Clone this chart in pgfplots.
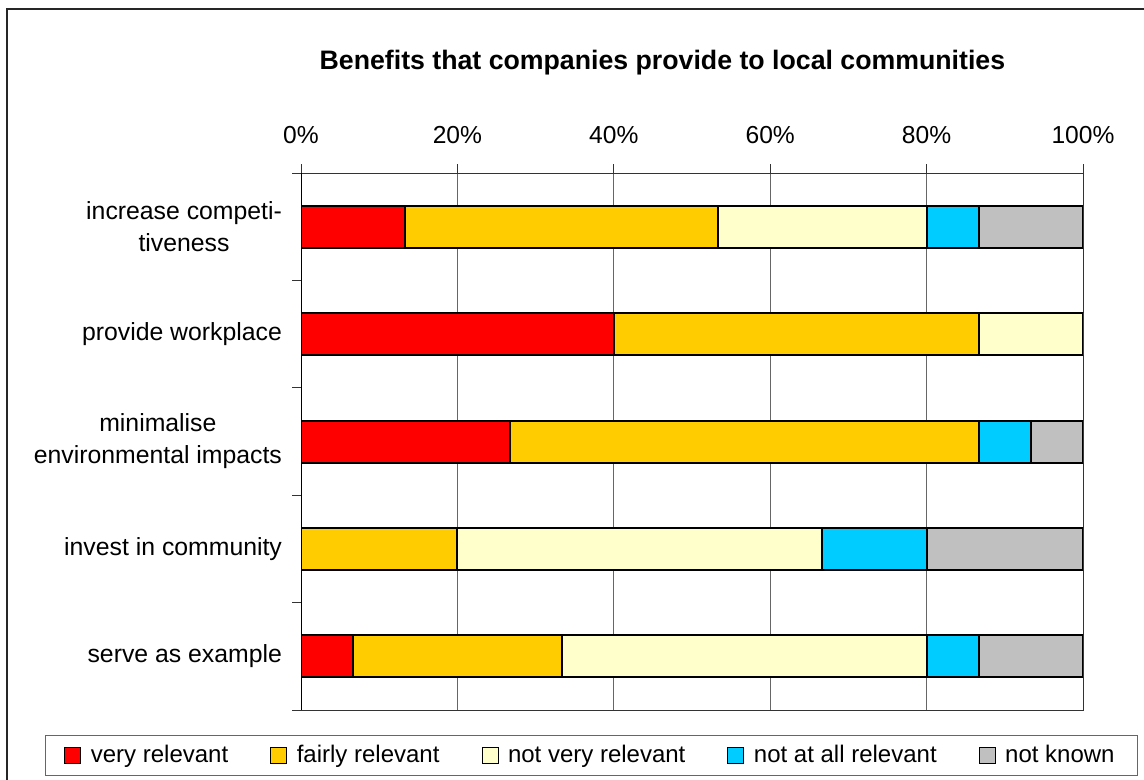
\documentclass[border=0pt]{standalone}
\usepackage{fontspec}
\setmainfont{Liberation Sans}
\usepackage{pgfplots}
\pgfplotsset{compat=1.18}
\definecolor{cRed}{HTML}{FF0000}
\definecolor{cOrange}{HTML}{FFCC00}
\definecolor{cLight}{HTML}{FFFFCC}
\definecolor{cCyan}{HTML}{00CCFF}
\definecolor{cGray}{HTML}{C0C0C0}
\begin{document}
\begin{tikzpicture}
\useasboundingbox (0,0) rectangle (572pt,-390pt);
\draw[line width=1pt, black!85] (3.5pt,-4.5pt) rectangle (600pt,-420pt);
\node[font=\fontsize{13.35}{15}\selectfont\bfseries] at (331.2pt,-31.3pt) {Benefits that companies provide to local communities};
\begin{axis}[
  at={(150.5pt,-86.5pt)}, anchor=north west,
  width=391pt, height=268.5pt, scale only axis,
  xbar stacked, bar width=21pt,
  xmin=0, xmax=100, ymin=-0.5, ymax=4.5, y dir=reverse,
  xtick={0,20,...,100},
  xticklabel={\pgfmathprintnumber{\tick}\%},
  xtick pos=right, xticklabel pos=right,
  tick align=outside, major tick length=4.5pt,
  xmajorgrids, grid style={black!60, line width=0.5pt},
  ytick={-0.5,0.5,...,4.5}, yticklabels={},
  ytick pos=left,
  extra y ticks={0,1,2,3,4},
  extra y tick labels={{increase competi-\\tiveness},{provide workplace},{minimalise\\environmental impacts},{invest in community},{serve as example}},
  extra y tick style={major tick length=0pt, grid=none},
  yticklabel style={font=\fontsize{12.4}{16}\selectfont, align=center, xshift=-6pt},
  xticklabel style={font=\fontsize{12.3}{14}\selectfont, /pgf/number format/assume math mode=true, yshift=6.5pt},
  tick style={black!80, line width=0.5pt},
  axis line style={black!80, line width=0.5pt},
  every axis plot/.append style={draw=black, line width=1pt},
  legend columns=5,
  legend image code/.code={\draw[#1, line width=0.5pt] (0pt,-4pt) rectangle (8pt,4pt); \path (10.5pt,0pt);},
  legend style={at={(0.3715,-0.0847)}, anchor=center, draw=black!60, line width=0.5pt,
    font=\fontsize{12}{14}\selectfont, inner xsep=9.5pt, inner ysep=3pt,
    /tikz/every even column/.append style={column sep=19pt}},
]
\addplot[fill=cRed] coordinates {(13.33,0) (40,1) (26.67,2) (0,3) (6.67,4)};
\addplot[fill=cOrange] coordinates {(40,0) (46.67,1) (60,2) (20,3) (26.67,4)};
\addplot[fill=cLight] coordinates {(26.67,0) (13.33,1) (0,2) (46.67,3) (46.67,4)};
\addplot[fill=cCyan] coordinates {(6.67,0) (0,1) (6.67,2) (13.33,3) (6.67,4)};
\addplot[fill=cGray] coordinates {(13.33,0) (0,1) (6.67,2) (20,3) (13.33,4)};
\legend{very relevant, fairly relevant, not very relevant, not at all relevant, not known}
\draw[black, line width=1pt] (rel axis cs:0,0) -- (rel axis cs:0,1);
\end{axis}
\end{tikzpicture}
\end{document}
